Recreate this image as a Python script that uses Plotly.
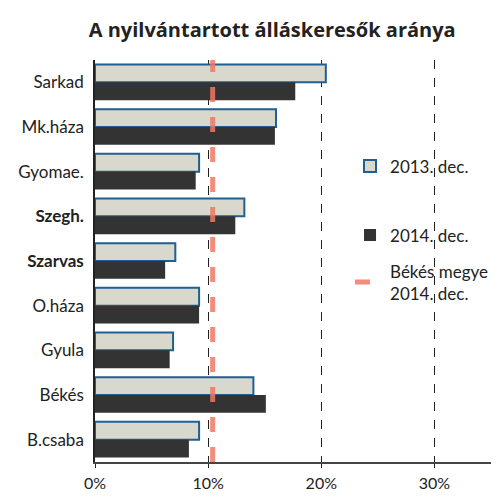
import plotly.graph_objects as go

categories = ["Sarkad", "Mk.háza", "Gyomae.", "Szegh.", "Szarvas", "O.háza", "Gyula", "Békés", "B.csaba"]
tick_labels = ["Sarkad", "Mk.háza", "Gyomae.", "<b>Szegh.</b>", "<b>Szarvas</b>", "O.háza", "Gyula", "Békés", "B.csaba"]
dec_2013 = [20.4, 16.0, 9.2, 13.2, 7.1, 9.2, 6.9, 14.0, 9.2]
dec_2014 = [17.7, 15.9, 8.9, 12.4, 6.2, 9.2, 6.6, 15.1, 8.3]
megye_2014 = 10.4
x_ticks = [0, 10, 20, 30]
x_tick_labels = ["0%", "10%", "20%", "30%"]

fig = go.Figure()
fig.add_trace(go.Bar(y=categories, x=dec_2013, orientation="h", name="2013. dec.",
                     marker=dict(color="#d8d8cc", line=dict(color="#1f5f92", width=2)),
                     legend="legend", legendgroup="a"))
fig.add_trace(go.Bar(y=categories, x=dec_2014, orientation="h", name="2014. dec.",
                     marker=dict(color="#333333", line=dict(color="#333333", width=0)),
                     legend="legend", legendgroup="b"))
fig.add_trace(go.Scatter(x=[megye_2014, megye_2014], y=[0, 1], yaxis="y2", mode="lines",
                         name="Békés megye<br>2014. dec.",
                         line=dict(color="rgba(240,120,100,0.85)", width=5, dash="dash"),
                         legend="legend2"))

fig.update_layout(
    width=491, height=491,
    margin=dict(l=87, r=5, t=52, b=37),
    paper_bgcolor="white", plot_bgcolor="white",
    barmode="group", bargap=0.2, bargroupgap=0.0,
    title=dict(text="<b>A nyilvántartott álláskeresők aránya</b>", x=0.538, xanchor="center",
               y=0.955, yanchor="middle", font=dict(size=20, color="#222222", family="Open Sans")),
    font=dict(family="Lato", color="#222222", size=17),
    xaxis=dict(range=[0, 35], tickvals=x_ticks, ticktext=x_tick_labels,
               showgrid=True, gridcolor="#222222", griddash="dash", gridwidth=1.2,
               zeroline=False, showline=True, linecolor="#444444", linewidth=1.5,
               ticks="outside", ticklen=4, tickcolor="#222222", automargin=False,
               ticklabelstandoff=2,
               tickfont=dict(size=16, color="#222222")),
    yaxis=dict(autorange="reversed", tickvals=categories, ticktext=tick_labels,
               showgrid=False, showline=True, linecolor="#222222", linewidth=1.5,
               ticks="outside", ticklen=6, tickcolor="white", automargin=False,
               tickfont=dict(size=17, color="#222222")),
    yaxis2=dict(overlaying="y", range=[0, 1], visible=False),
    legend=dict(x=0.644, y=0.78, xanchor="left", yanchor="top", bgcolor="rgba(0,0,0,0)",
                tracegroupgap=44, itemwidth=30, font=dict(size=17, color="#222222")),
    legend2=dict(x=0.644, y=0.519, xanchor="left", yanchor="top", bgcolor="rgba(0,0,0,0)",
                 itemwidth=30, font=dict(size=17, color="#222222")),
)

fig.write_html("out.html")
